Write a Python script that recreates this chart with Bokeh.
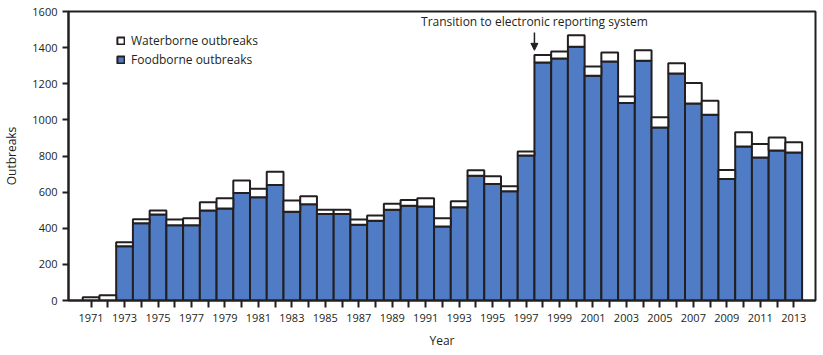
from bokeh.plotting import figure
from bokeh.models import (ColumnDataSource, FixedTicker, Range1d, Legend, LegendItem,
                          Arrow, NormalHead, Label)
from bokeh.embed import file_html
from bokeh.resources import INLINE

years = list(range(1971, 2014))
foodborne = [0, 0, 300, 427, 476, 416, 416, 498, 510, 595,
             571, 640, 492, 533, 479, 479, 420, 441, 502, 525,
             520, 409, 516, 691, 645, 605, 803, 1318, 1340, 1405,
             1244, 1323, 1093, 1327, 958, 1257, 1091, 1029, 673, 853,
             792, 830, 820]
waterborne = [18, 29, 22, 23, 22, 32, 39, 46, 56, 69,
              47, 73, 61, 44, 24, 24, 28, 29, 33, 32,
              46, 46, 33, 30, 43, 27, 22, 41, 39, 64,
              52, 50, 37, 59, 56, 57, 113, 77, 50, 78,
              74, 73, 56]
y_ticks = [0, 200, 400, 600, 800, 1000, 1200, 1400, 1600]
annotation_text = "Transition to electronic reporting system"
annotation_year = 1997.5

total = [f + w for f, w in zip(foodborne, waterborne)]
src = ColumnDataSource(dict(year=years, food=foodborne, total=total,
                            zero=[0] * len(years)))

FONT = "Open Sans"
INK = "#231f20"
BLUE = "#4f7cc4"

p = figure(width=823, height=355, output_backend="svg", toolbar_location=None,
           x_range=Range1d(1969.65, 2014.3), y_range=Range1d(0, 1600))
p.min_border_left = 64
p.min_border_right = 8
p.min_border_top = 11
p.min_border_bottom = 55
p.background_fill_color = "white"
p.border_fill_color = "white"
p.outline_line_color = INK
p.outline_line_width = 2
p.xgrid.visible = False
p.ygrid.visible = False

r_food = p.vbar(x="year", bottom="zero", top="food", width=1.0, source=src,
                fill_color=BLUE, line_color=INK, line_width=2)
r_water = p.vbar(x="year", bottom="food", top="total", width=1.0, source=src,
                 fill_color="white", line_color=INK, line_width=2)

# axes
xa = p.xaxis[0]
xa.ticker = FixedTicker(ticks=[y for y in years if y % 2 == 1],
                        minor_ticks=[y for y in years if y % 2 == 0])
xa.axis_label = "Year"
xa.axis_line_color = INK
xa.axis_line_width = 2
xa.major_tick_line_color = INK
xa.major_tick_line_width = 2
xa.minor_tick_line_color = INK
xa.minor_tick_line_width = 2
xa.major_tick_in = 0
xa.major_tick_out = 7
xa.minor_tick_in = 0
xa.minor_tick_out = 7
xa.major_label_standoff = 6
xa.major_label_text_font = FONT
xa.major_label_text_font_size = "11px"
xa.major_label_text_color = INK
xa.axis_label_text_font = FONT
xa.axis_label_text_font_size = "12px"
xa.axis_label_text_font_style = "normal"
xa.axis_label_text_color = INK
xa.axis_label_standoff = 7

ya = p.yaxis[0]
ya.ticker = FixedTicker(ticks=y_ticks)
ya.axis_label = "Outbreaks"
ya.axis_line_color = INK
ya.axis_line_width = 2
ya.major_tick_line_color = INK
ya.major_tick_line_width = 2
ya.major_tick_in = 0
ya.major_tick_out = 6
ya.minor_tick_line_color = None
ya.major_label_standoff = 5
ya.major_label_text_font = FONT
ya.major_label_text_font_size = "11px"
ya.major_label_text_color = INK
ya.axis_label_text_font = FONT
ya.axis_label_text_font_size = "12px"
ya.axis_label_text_font_style = "normal"
ya.axis_label_text_color = INK
ya.axis_label_standoff = 9

legend = Legend(items=[LegendItem(label="Waterborne outbreaks", renderers=[r_water]),
                       LegendItem(label="Foodborne outbreaks", renderers=[r_food])],
                location=(48, 232), padding=0, margin=0, spacing=2,
                glyph_width=9, glyph_height=9, label_standoff=6,
                label_height=13, label_text_font=FONT, label_text_font_size="12px",
                label_text_color=INK, background_fill_alpha=0, border_line_color=None)
p.add_layout(legend)

p.add_layout(Arrow(end=NormalHead(size=7, fill_color=INK, line_color=INK),
                   x_start=annotation_year, y_start=1484,
                   x_end=annotation_year, y_end=1385,
                   line_color=INK, line_width=1.5))
p.add_layout(Label(x=annotation_year, y=1500, text=annotation_text,
                   text_align="center", text_baseline="bottom",
                   text_font=FONT, text_font_size="12px", text_color=INK))

open("out.html", "w").write(file_html(p, INLINE))
